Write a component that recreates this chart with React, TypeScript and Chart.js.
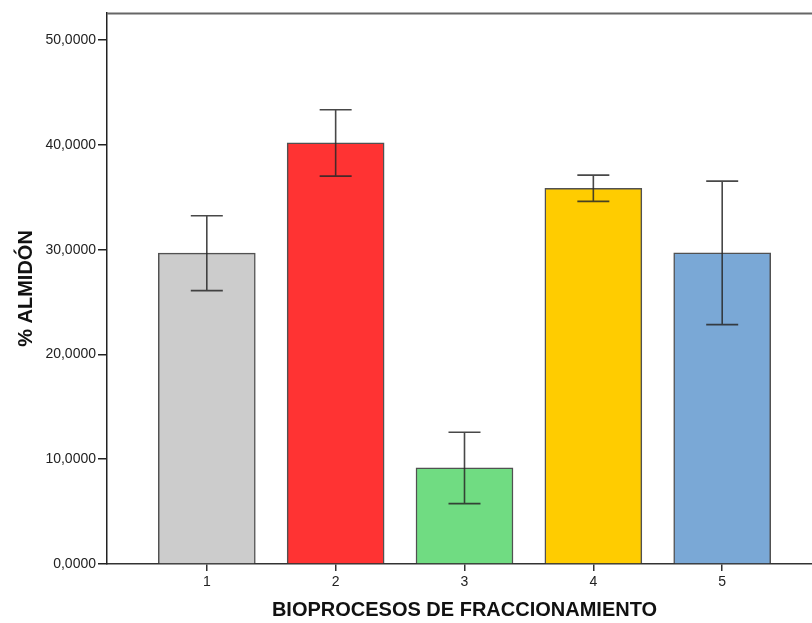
import React, { useEffect, useRef } from "react";
import { Chart, registerables } from "chart.js";

Chart.register(...registerables);

const categories = ["1", "2", "3", "4", "5"];
const xPositions = [1, 2, 3, 4, 5];
const means = [29.67, 40.2, 9.17, 35.87, 29.7];
const errors = [3.57, 3.17, 3.41, 1.25, 6.85];
const barColors = ["#CCCCCC", "#FF3333", "#70DC82", "#FFCC00", "#7AA8D6"];
const yTicks = [0, 10, 20, 30, 40, 50];
const xTitle = "BIOPROCESOS DE FRACCIONAMIENTO";
const yTitle = "% ALMIDÓN";

const FONT = "'Liberation Sans', Arial, sans-serif";

const errorBarPlugin = {
  id: "errorBars",
  afterDatasetsDraw(chart: any) {
    const { ctx, scales } = chart;
    const xs = scales.x;
    const ys = scales.y;
    ctx.save();
    ctx.strokeStyle = "rgba(40,40,40,0.85)";
    ctx.lineWidth = 1.6;
    means.forEach((m, i) => {
      const x = xs.getPixelForValue(xPositions[i]);
      const yt = ys.getPixelForValue(m + errors[i]);
      const yb = ys.getPixelForValue(m - errors[i]);
      const cap = 16;
      ctx.beginPath();
      ctx.moveTo(x, yt);
      ctx.lineTo(x, yb);
      ctx.moveTo(x - cap, yt);
      ctx.lineTo(x + cap, yt);
      ctx.moveTo(x - cap, yb);
      ctx.lineTo(x + cap, yb);
      ctx.stroke();
    });
    ctx.restore();
  },
};

const frameTopPlugin = {
  id: "frameTop",
  afterDraw(chart: any) {
    const { ctx, chartArea } = chart;
    ctx.save();
    ctx.strokeStyle = "#666";
    ctx.lineWidth = 2;
    ctx.beginPath();
    ctx.moveTo(chartArea.left, chartArea.top + 0.5);
    ctx.lineTo(chartArea.right, chartArea.top + 0.5);
    ctx.stroke();
    ctx.restore();
  },
};

export default function App() {
  const canvasRef = useRef<HTMLCanvasElement | null>(null);

  useEffect(() => {
    const canvas = canvasRef.current;
    if (!canvas) return;
    const chart = new Chart(canvas, {
      type: "bar",
      data: {
        datasets: [
          {
            data: means.map((m, i) => ({ x: xPositions[i], y: m })),
            backgroundColor: barColors,
            borderColor: "rgba(50,50,50,0.85)",
            borderWidth: 1.5,
            borderSkipped: "bottom",
            barThickness: 97,
          },
        ],
      },
      options: {
        animation: false,
        responsive: false,
        maintainAspectRatio: false,
        layout: { padding: { left: 0, right: 0, top: 13, bottom: 0 } },
        plugins: {
          legend: { display: false },
          tooltip: { enabled: false },
        },
        scales: {
          x: {
            type: "linear",
            offset: false,
            min: 0.2254,
            max: 5.7746,
            afterFit(scale: any) {
              scale.height = 59;
            },
            afterBuildTicks(scale: any) {
              scale.ticks = xPositions.map((v) => ({ value: v }));
            },
            ticks: {
              stepSize: 1,
              includeBounds: false,
              autoSkip: false,
              maxRotation: 0,
              padding: 3,
              color: "#222",
              font: { family: FONT, size: 14 },
              callback: (v: any) => categories[xPositions.indexOf(Number(v))] ?? "",
            },
            grid: {
              display: true,
              offset: false,
              drawOnChartArea: false,
              drawTicks: true,
              tickLength: 7,
              color: "#333",
              lineWidth: 1.5,
            },
            border: { display: true, color: "#333", width: 1.5 },
            title: {
              display: true,
              text: xTitle,
              color: "#111",
              font: { family: FONT, size: 20, weight: "bold" },
              padding: { top: 0, bottom: 1 },
            },
          },
          y: {
            type: "linear",
            min: 0,
            max: 52.6,
            afterFit(scale: any) {
              scale.width = 107;
            },
            afterBuildTicks(scale: any) {
              scale.ticks = yTicks.map((v) => ({ value: v }));
            },
            ticks: {
              stepSize: 10,
              includeBounds: false,
              padding: 2,
              color: "#222",
              font: { family: FONT, size: 14 },
              callback: (v: any) => Number(v).toFixed(4).replace(".", ","),
            },
            grid: {
              display: true,
              drawOnChartArea: false,
              drawTicks: true,
              tickLength: 9,
              color: "#222",
              lineWidth: 1.5,
            },
            border: { display: true, color: "#222", width: 1.5 },
            title: {
              display: true,
              text: yTitle,
              color: "#111",
              font: { family: FONT, size: 20, weight: "bold" },
              padding: { top: 14, bottom: 0 },
            },
          },
        },
      } as any,
      plugins: [errorBarPlugin, frameTopPlugin],
    });
    return () => chart.destroy();
  }, []);

  return (
    <div
      style={{
        position: "fixed",
        left: 0,
        top: 0,
        width: 812,
        height: 623,
        overflow: "hidden",
        background: "#fff",
      }}
    >
      <canvas ref={canvasRef} width={822} height={623} style={{ width: 822, height: 623, display: "block" }} />
    </div>
  );
}
